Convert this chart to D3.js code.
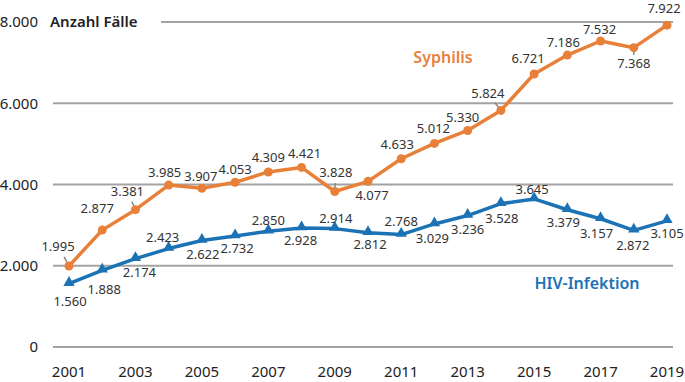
<!DOCTYPE html>
<html>
<head>
<meta charset="utf-8">
<script src="https://cdn.jsdelivr.net/npm/d3@7"></script>
<style>
  body { margin: 0; background: #fff; }
  svg text { font-family: "Noto Sans", sans-serif; }
</style>
</head>
<body>
<svg id="chart" width="685" height="382"></svg>
<script>
const years = d3.range(2001, 2020);
const syphilis = [1995, 2877, 3381, 3985, 3907, 4053, 4309, 4421, 3828, 4077, 4633, 5012, 5330, 5824, 6721, 7186, 7532, 7368, 7922];
const hiv = [1560, 1888, 2174, 2423, 2622, 2732, 2850, 2928, 2914, 2812, 2768, 3029, 3236, 3528, 3645, 3379, 3157, 2872, 3105];
const yTicks = [0, 2000, 4000, 6000, 8000];
const xTicks = [2001, 2003, 2005, 2007, 2009, 2011, 2013, 2015, 2017, 2019];

// label offsets from the point (text centre), leader = draw gray tick
const syphLabelPos = [
  [-11, -20, 1], [-5, -22, 0], [-8, -18, 1], [-4, -13, 0], [-1, -12, 0], [0, -13, 0],
  [0, -14, 0], [3, -14, 0], [1, -19, 1], [4, 14, 0], [-4, -14, 0], [-1, -15, 0],
  [-5, -13, 0], [-13, -17, 1], [-6, -16, 0], [-4, -13, 0], [-1, -12, 0], [0, 16, 1], [-3, -17, 0]
];
const hivLabelPos = [
  [1, 18], [2, 19], [4, 14], [-6, -11], [1, 14], [2, 12], [0, -11], [-1, 12], [1, -10],
  [2, 12], [0, -13], [-2, 15], [0, 14], [1, 15], [-2, -9], [-4, 13], [-4, 15], [-1, 15], [0, 13]
];

const orange = "#e8803a", blue = "#1b72b5", grid = "#a3a3a3";
const fmt = v => d3.format(",")(v).replace(/,/g, ".");

const svg = d3.select("#chart");
const x = d3.scaleLinear().domain([2001, 2019]).range([69, 667]);
const y = d3.scaleLinear().domain([0, 8000]).range([347, 22]);

// gridlines
svg.append("g").selectAll("line")
  .data(yTicks)
  .join("line")
  .attr("x1", d => d === 8000 ? 161 : 53)
  .attr("x2", 673)
  .attr("y1", d => y(d))
  .attr("y2", d => y(d))
  .attr("stroke", grid)
  .attr("stroke-width", 2);

// y tick labels
svg.append("g").selectAll("text")
  .data(yTicks)
  .join("text")
  .attr("x", 38)
  .attr("y", d => y(d))
  .attr("dy", "0.35em")
  .attr("text-anchor", "end")
  .attr("font-size", 15)
  .attr("fill", "#222")
  .text(fmt);

svg.append("text")
  .attr("x", 50).attr("y", y(8000)).attr("dy", "0.35em")
  .attr("font-size", 15).attr("font-weight", 600).attr("fill", "#222")
  .text("Anzahl Fälle");

// x tick labels
svg.append("g").selectAll("text")
  .data(xTicks)
  .join("text")
  .attr("x", d => x(d))
  .attr("y", 377)
  .attr("text-anchor", "middle")
  .attr("font-size", 15)
  .attr("fill", "#222")
  .text(d => d);

const line = d3.line().x((d, i) => x(years[i])).y(d => y(d));

// Syphilis
svg.append("path")
  .datum(syphilis)
  .attr("d", line)
  .attr("fill", "none")
  .attr("stroke", orange)
  .attr("stroke-width", 3.5)
  .attr("stroke-linejoin", "round");

svg.append("g").selectAll("circle")
  .data(syphilis)
  .join("circle")
  .attr("cx", (d, i) => x(years[i]))
  .attr("cy", d => y(d))
  .attr("r", 4.5)
  .attr("fill", orange);

// HIV
svg.append("path")
  .datum(hiv)
  .attr("d", line)
  .attr("fill", "none")
  .attr("stroke", blue)
  .attr("stroke-width", 3.5)
  .attr("stroke-linejoin", "round");

svg.append("g").selectAll("path")
  .data(hiv)
  .join("path")
  .attr("d", d3.symbol(d3.symbolTriangle, 55))
  .attr("transform", (d, i) => `translate(${x(years[i])},${y(d) - 1})`)
  .attr("fill", blue);

// leader lines
svg.append("g").selectAll("line")
  .data(syphilis.map((v, i) => ({ v, i, p: syphLabelPos[i] })).filter(d => d.p[2]))
  .join("line")
  .attr("x1", d => x(years[d.i]) + d.p[0] * 0.45)
  .attr("y1", d => y(d.v) + d.p[1] * 0.45)
  .attr("x2", d => x(years[d.i]) + d.p[0] * 0.2)
  .attr("y2", d => y(d.v) + d.p[1] * 0.2)
  .attr("stroke", "#888")
  .attr("stroke-width", 1.5);

// value labels
svg.append("g").selectAll("text")
  .data(syphilis)
  .join("text")
  .attr("x", (d, i) => x(years[i]) + syphLabelPos[i][0])
  .attr("y", (d, i) => y(d) + syphLabelPos[i][1])
  .attr("dy", "0.35em")
  .attr("text-anchor", "middle")
  .attr("font-size", 13)
  .attr("fill", "#333")
  .text(fmt);

svg.append("g").selectAll("text")
  .data(hiv)
  .join("text")
  .attr("x", (d, i) => x(years[i]) + hivLabelPos[i][0])
  .attr("y", (d, i) => y(d) + hivLabelPos[i][1])
  .attr("dy", "0.35em")
  .attr("text-anchor", "middle")
  .attr("font-size", 13)
  .attr("fill", "#333")
  .text(fmt);

// series names
svg.append("text")
  .attr("x", 443).attr("y", 57).attr("dy", "0.35em")
  .attr("text-anchor", "middle")
  .attr("font-size", 16).attr("font-weight", 600).attr("fill", orange)
  .text("Syphilis");

svg.append("text")
  .attr("x", 587).attr("y", 283).attr("dy", "0.35em")
  .attr("text-anchor", "middle")
  .attr("font-size", 16).attr("font-weight", 600).attr("fill", blue)
  .text("HIV-Infektion");
</script>
</body>
</html>
